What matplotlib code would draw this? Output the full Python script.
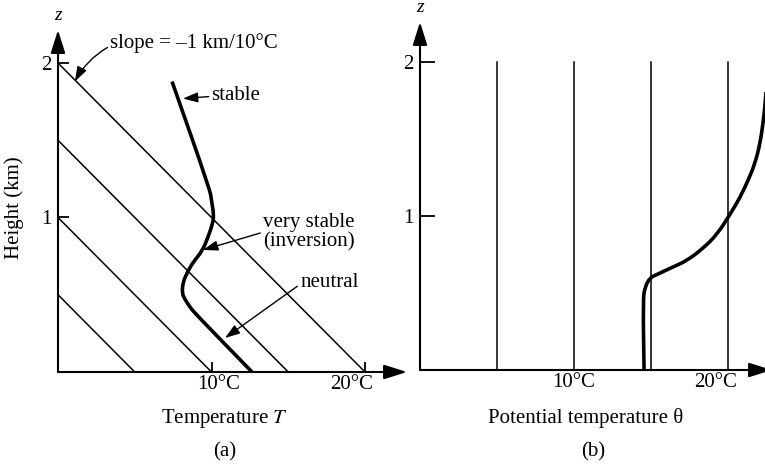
import matplotlib
matplotlib.use('Agg')
import matplotlib.pyplot as plt
import matplotlib.transforms as mtransforms
from matplotlib.path import Path
from matplotlib.patches import PathPatch

# data
# (a) dry adiabats: temperature where each line meets z = 0 (slope -1 km / 10 C)
adiabat_T0 = [5, 10, 15, 20]
# (a) sounding, temperature (C) and height (km)
sound_T = [7.43, 9.90, 10.0, 10.10, 10.13, 10.10, 9.77, 9.38, 8.79, 8.40, 8.14, 8.08, 8.27, 8.60, 8.92, 12.64]
sound_z = [1.88, 1.18, 1.11, 1.05, 1.01, 0.97, 0.87, 0.78, 0.71, 0.64, 0.58, 0.51, 0.47, 0.42, 0.38, 0.0]
# (b) constant potential temperature lines
theta_lines = [5, 10, 15, 20]
# (b) potential temperature profile
theta = [14.55, 14.48, 14.61, 14.94, 15.39, 16.23, 17.34, 18.38, 19.29, 20.13,
         20.78, 21.30, 21.75, 22.08, 22.27, 22.40, 22.5]
theta_z = [0.0, 0.455, 0.54, 0.60, 0.62, 0.66, 0.71, 0.79, 0.88, 1.01,
           1.12, 1.23, 1.34, 1.47, 1.60, 1.71, 1.85]

z_ticks = [1, 2]
z_labels = ['1', '2']
t_ticks = [10, 20]
t_labels = ['10°C', '20°C']

plt.rcParams['font.family'] = ['Liberation Serif', 'DejaVu Serif']
plt.rcParams['mathtext.fontset'] = 'stix'
FS = 15

fig = plt.figure(figsize=(7.65, 4.65), dpi=100)
W, H = 765, 465


def px_axes(x0, y0, x1, y1):
    # pixel box (left, bottom-origin y, right, top y) -> figure fraction axes
    return fig.add_axes([x0 / W, (H - y0) / H, (x1 - x0) / W, (y0 - y1) / H])


def smooth_curve(ax, xs, ys, lw):
    # read points used as quadratic bezier control points, so the line has no corners
    pts = list(zip(xs, ys))
    verts = [pts[0]]
    codes = [Path.MOVETO]
    mid = lambda a, b: ((a[0] + b[0]) / 2, (a[1] + b[1]) / 2)
    verts.append(mid(pts[0], pts[1]))
    codes.append(Path.LINETO)
    for i in range(1, len(pts) - 1):
        verts += [pts[i], mid(pts[i], pts[i + 1])]
        codes += [Path.CURVE3, Path.CURVE3]
    verts.append(pts[-1])
    codes.append(Path.LINETO)
    ax.add_patch(PathPatch(Path(verts, codes), fill=False, lw=lw, edgecolor='black',
                           capstyle='butt', joinstyle='round'))


arrow_kw = dict(arrowstyle='-|>,head_length=0.7,head_width=0.22', lw=1.5,
                color='black', mutation_scale=20, shrinkA=0, shrinkB=0)
note_kw = dict(arrowstyle='-|>,head_length=0.5,head_width=0.17', lw=1.0,
               color='black', mutation_scale=18, shrinkA=0, shrinkB=0)


def setup(ax, xmax, zmax, ytick_len, xtick_len):
    ax.set_xlim(0, xmax)
    ax.set_ylim(0, zmax)
    for s in ax.spines.values():
        s.set_visible(False)
    ax.patch.set_alpha(0)
    ax.annotate('', xy=(xmax, 0), xytext=(0, 0), arrowprops=arrow_kw, annotation_clip=False)
    ax.annotate('', xy=(0, zmax), xytext=(0, 0), arrowprops=arrow_kw, annotation_clip=False)
    ax.set_yticks(z_ticks)
    ax.set_yticklabels(z_labels, fontsize=FS)
    ax.set_xticks(t_ticks)
    ax.set_xticklabels(t_labels, fontsize=FS)
    ax.tick_params(axis='y', direction='in', length=ytick_len, width=1.3, pad=5)
    ax.tick_params(axis='x', direction='in', length=xtick_len, width=1.3, pad=2)
    ax.text(0, zmax + 0.04, 'z', style='italic', fontsize=FS - 1, ha='center', va='bottom')


# ---- panel (a)
axa = px_axes(58, 372, 407, 30)
setup(axa, (407 - 58) / 15.35, (372 - 30) / 154.5, 8, 7)
for t0 in adiabat_T0:
    axa.plot([0, t0], [t0 / 10, 0], color='black', lw=1.1, solid_capstyle='butt')
smooth_curve(axa, sound_T, sound_z, 2.6)

offs = [7, -13]
for lab, dx in zip(axa.get_xticklabels(), offs):
    lab.set_transform(lab.get_transform() + mtransforms.ScaledTranslation(dx / 100, 0, fig.dpi_scale_trans))

axa.annotate('slope = –1 km/10°C', xy=(1.1, 1.88), xytext=(3.4, 2.13), fontsize=FS,
             va='center', ha='left', annotation_clip=False,
             arrowprops=dict(note_kw, connectionstyle='arc3,rad=0.15', relpos=(0, 0.35)))
axa.annotate('stable', xy=(8.14, 1.77), xytext=(10.0, 1.79), fontsize=FS,
             va='center', ha='left', arrowprops=dict(note_kw, relpos=(0, 0.45)))
axa.annotate('very stable\n(inversion)', xy=(9.45, 0.79), xytext=(13.36, 0.905), fontsize=FS,
             va='center', ha='left', multialignment='center', linespacing=1.0,
             arrowprops=dict(note_kw, relpos=(0, 0.5)))
axa.annotate('neutral', xy=(10.88, 0.22), xytext=(15.77, 0.58), fontsize=FS,
             va='center', ha='left', arrowprops=dict(note_kw, relpos=(0, 0.4)))

fig.text(14 / W, 1 - 208 / H, 'Height (km)', rotation=90, fontsize=FS, ha='center', va='center')
fig.text(225 / W, 1 - 418 / H, 'Temperature $T$', fontsize=FS, ha='center', va='center')
fig.text(225 / W, 1 - 452 / H, '(a)', fontsize=FS, ha='center', va='center')

# ---- panel (b)
axb = px_axes(420, 370, 772, 22)
setup(axb, (772 - 420) / 15.4, (370 - 22) / 154, 11, 0)
for th in theta_lines:
    axb.plot([th, th], [0, 2], color='black', lw=1.1)
smooth_curve(axb, theta, theta_z, 2.6)

offs = [0, -12]
for lab, dx in zip(axb.get_xticklabels(), offs):
    lab.set_transform(lab.get_transform() + mtransforms.ScaledTranslation(dx / 100, 0, fig.dpi_scale_trans))

fig.text(586 / W, 1 - 418 / H, 'Potential temperature θ', fontsize=FS, ha='center', va='center')
fig.text(593 / W, 1 - 452 / H, '(b)', fontsize=FS, ha='center', va='center')

fig.savefig('out.png', dpi=100)
